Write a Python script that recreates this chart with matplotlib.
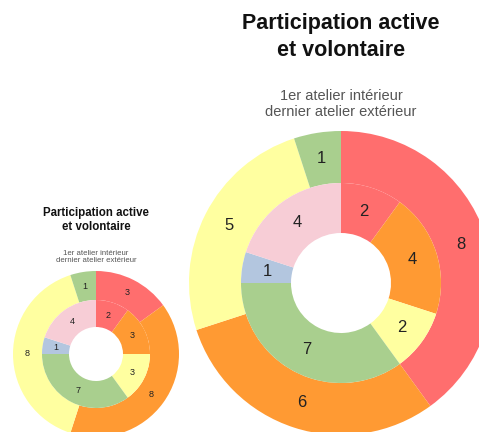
import matplotlib.pyplot as plt

# small chart (left)
small_outer = [3, 8, 8, 1]
small_inner = [2, 3, 3, 7, 1, 4]
# large chart (right)
big_outer = [8, 6, 5, 1]
big_inner = [2, 4, 2, 7, 1, 4]

outer_colors = ["#ff6e6e", "#ff9a33", "#ffffa0", "#a9cf8e"]
inner_colors = ["#ff6e6e", "#ff9a33", "#ffffa0", "#a9cf8e", "#b3c6df", "#f7cdd6"]

title = "Participation active\net volontaire"
subtitle = "1er atelier intérieur\ndernier atelier extérieur"
FONT = ["Liberation Sans", "DejaVu Sans"]

W, H = 479, 432
fig = plt.figure(figsize=(W / 100, H / 100), dpi=100)
ax = fig.add_axes([0, 0, 1, 1])


def donut(cx, cy, r_out, r_mid, r_hole, outer, inner, fs):
    cy = H - cy
    w_out = r_out - r_mid
    w_in = r_mid - r_hole
    tp = dict(fontsize=fs, color="#222222", ha="center", va="center", family=FONT)
    ax.pie(outer, colors=outer_colors, startangle=90, counterclock=False,
           radius=r_out, center=(cx, cy), wedgeprops=dict(width=w_out, linewidth=0),
           labels=[str(v) for v in outer], labeldistance=(r_out - w_out / 2) / r_out,
           textprops=tp)
    ax.pie(inner, colors=inner_colors, startangle=90, counterclock=False,
           radius=r_mid, center=(cx, cy), wedgeprops=dict(width=w_in, linewidth=0),
           labels=[str(v) for v in inner], labeldistance=(r_mid - w_in / 2) / r_mid,
           textprops=tp)


def header(cx, ty, sy, tfs, sfs, tls, sls):
    ax.text(cx, H - ty, title, ha="center", va="center", fontsize=tfs, fontweight="bold",
            family=FONT, linespacing=tls, color="#111111")
    ax.text(cx, H - sy, subtitle, ha="center", va="center", fontsize=sfs,
            family=FONT, linespacing=sls, color="#555555")


donut(341, 283, 152, 100, 50, big_outer, big_inner, 12)
header(341, 37, 104, 15.5, 10.5, 1.4, 1.15)

donut(96, 354, 83, 54, 27, small_outer, small_inner, 6.5)
header(96, 220, 257, 8.3, 5.6, 1.3, 1.1)

ax.set_xlim(0, W)
ax.set_ylim(0, H)
ax.set_aspect("equal")
ax.axis("off")

fig.savefig("out.png", dpi=100)
